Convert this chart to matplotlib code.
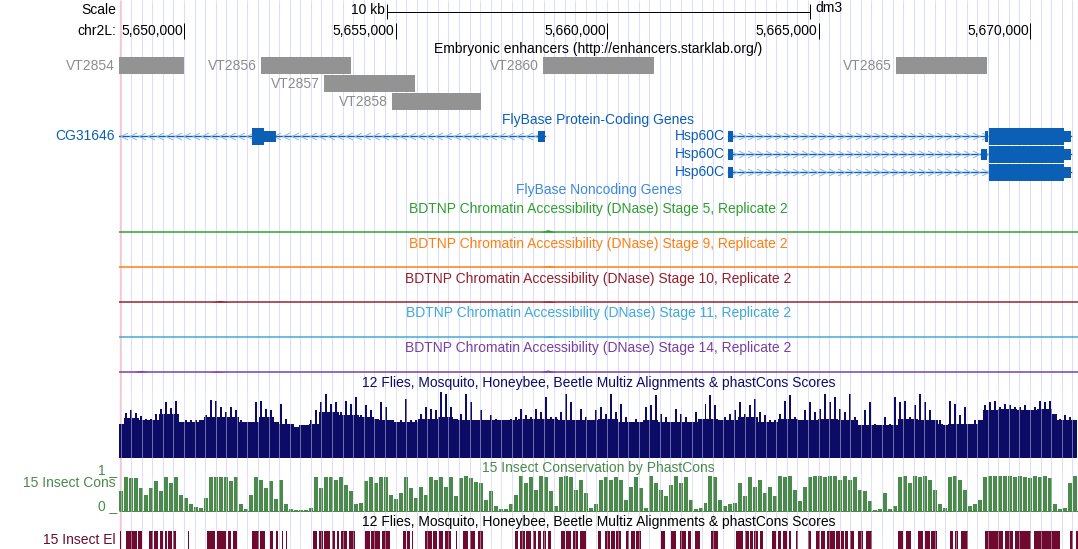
import numpy as np
import matplotlib
matplotlib.use("Agg")
import matplotlib.pyplot as plt
from matplotlib.path import Path

plt.rcParams['font.family'] = ['Liberation Sans', 'DejaVu Sans']
plt.rcParams['font.size'] = 10

W, H = 1078, 549
LEFT = 119   # first pixel column of the data area
PX = 0.72    # one pixel in points

# ---- data -------------------------------------------------------------
chrom = "chr2L"
assembly = "dm3"
view_start = 5648463
view_end = 5671134
coord_ticks = [5650000, 5655000, 5660000, 5665000, 5670000]
scale_bar_bp = 10000

enh_names = ["VT2854", "VT2856", "VT2857", "VT2858", "VT2860", "VT2865"]
enh_starts = [5648300, 5651820, 5653309, 5654917, 5658486, 5666831]
enh_ends = [5649990, 5653947, 5655460, 5657021, 5661110, 5668983]

gene_names = ["CG31646", "Hsp60C", "Hsp60C", "Hsp60C"]
gene_strands = ["-", "+", "+", "+"]
gene_tx = [(5647900, 5658533), (5662869, 5670968), (5662869, 5670968), (5662869, 5670968)]
gene_cds = [(5647950, 5651891), (5669030, 5670803), (5669030, 5670803), (5669030, 5670803)]
gene_exons = [
    [(5651607, 5652174), (5658368, 5658533)],
    [(5662869, 5662976), (5668935, 5669006), (5669030, 5670968)],
    [(5662869, 5662976), (5668841, 5668983), (5669030, 5670968)],
    [(5662869, 5662976), (5669030, 5670968)],
]

dnase_stages = ["5", "9", "10", "11", "14"]
dnase_colors = ["#2ca02c", "#ff7f0e", "#961e28", "#3fa9d8", "#7540a0"]
dnase_peaks = [
    [(5658600, 0.12)],
    [(5658620, 0.08)],
    [(5650850, 0.08), (5658620, 0.06)],
    [(5658650, 0.06)],
    [(5648983, 0.08), (5650780, 0.05), (5658600, 0.10)],
]

bin_start = 5648463
bin_bp = 118
multiz_max = 66
# highest value in each bin
multiz = [34, 45, 48, 45, 42, 39, 39, 44, 49, 56, 50, 57, 36, 38, 38, 38, 38, 43, 58, 57,
          51, 46, 51, 48, 38, 36, 36, 56, 57, 49, 48, 36, 54, 39, 34, 31, 33, 33, 38, 48,
          56, 64, 54, 56, 46, 57, 54, 61, 43, 53, 48, 39, 56, 51, 38, 36, 38, 59, 38, 38,
          44, 51,
          49, 48, 66, 64, 51, 39, 44, 64, 56, 38, 48, 38, 43, 39, 38, 38, 39, 41, 49, 43,
          41, 49, 46, 61, 41, 41, 46, 64, 56, 38, 49, 41, 38, 48, 51, 44, 64, 46, 54, 41,
          36, 39, 36, 51, 53, 63, 44, 41, 36, 49, 44, 41, 36, 46, 39, 54, 63, 53, 38, 41,
          44, 48, 56, 44, 53, 59,
          46, 43, 38, 38, 44, 57, 63, 41, 38, 48, 56, 46, 49, 64, 56, 61, 49, 46, 64, 41,
          33, 48, 56, 34, 33, 41, 34, 61, 56, 57, 41, 53, 64, 56, 48, 38, 38, 33, 57, 54,
          43, 51, 34, 38, 38, 53, 56, 57, 51, 54, 53, 51, 51, 53, 48, 51, 57, 56, 57, 44,
          39, 43, 41, 38]
# typical level of the dense body, one value per four bins
multiz_floor = [40, 38, 44, 36, 41, 41, 36, 41, 34, 34, 46, 43, 41, 38, 36, 39,
                41, 38, 38, 38, 39, 39, 38, 38, 39, 36, 38, 36, 36, 39, 38, 41,
                36, 39, 38, 39, 38, 33, 33, 39, 38, 34, 34, 48, 49, 48, 49, 38]

phastcons = [57, 96, 94, 94, 66, 47, 66, 85, 57, 96, 80, 96, 47, 38, 19, 11, 9, 38, 96, 96,
             96, 96, 85, 96, 19, 5, 47, 96, 90, 66, 85, 33, 90, 19, 5, 4, 4, 4, 9, 96,
             66, 96, 96, 90, 96, 75, 57, 19, 24, 85, 96, 80, 96, 96, 47, 33, 52, 96, 66, 38,
             70, 47,
             97, 88, 97, 69, 97, 42, 93, 99, 93, 83, 79, 32, 56, 14, 6, 6, 19, 46, 99, 79,
             97, 60, 99, 97, 56, 14, 97, 99, 97, 60, 88, 51, 9, 19, 88, 97, 88, 97, 88, 32,
             69, 97, 65, 9, 99, 79, 60, 42, 74, 99, 79, 97, 32, 6, 9, 23, 99, 97, 32, 14,
             19, 23, 79, 42, 97, 69,
             88, 51, 69, 42, 99, 97, 99, 60, 28, 69, 97, 99, 99, 97, 99, 99, 88, 99, 88, 97,
             60, 56, 28, 2, 5, 51, 5, 14, 97, 99, 79, 99, 97, 99, 88, 60, 19, 9, 97, 99,
             88, 60, 14, 19, 32, 97, 99, 99, 99, 99, 99, 97, 99, 97, 93, 99, 97, 99, 93, 19,
             5, 9, 79, 99]

el_starts = [5648487, 5648628, 5648919, 5649179, 5649297, 5649432, 5649550, 5649628, 5649732, 5650101,
             5650550, 5650773, 5651047, 5651151, 5651600, 5651796, 5652033, 5652174, 5652309, 5652411,
             5653056, 5653198, 5653309, 5653491, 5653624, 5653704, 5653907, 5654285, 5654413, 5654673,
             5655170, 5655264, 5655382, 5655697, 5655886, 5656021, 5656163, 5656435, 5656595, 5656754,
             5656950, 5657831, 5657936, 5658092, 5658250, 5658368, 5658486, 5658605, 5658919, 5659037,
             5659196, 5659353, 5659786, 5659945, 5660099, 5660219, 5660456, 5660574, 5660692, 5661283,
             5661520, 5661718, 5661914, 5662072, 5662464, 5663056, 5663255, 5663380, 5663486, 5663610,
             5663900, 5664042, 5664160, 5664293, 5664472, 5664749, 5664946, 5665065, 5665207, 5665418,
             5665538, 5665617, 5665736, 5665933, 5666129, 5666879, 5667074, 5667351, 5667509, 5667665,
             5668100, 5668217, 5668374, 5668943, 5669401, 5669638, 5670086, 5670937, 5671093]
el_ends = [5648522, 5648881, 5649000, 5649274, 5649392, 5649510, 5649591, 5649706, 5649810, 5650123,
           5650732, 5650993, 5651104, 5651245, 5651780, 5651914, 5652111, 5652229, 5652347, 5652442,
           5653137, 5653278, 5653451, 5653569, 5653671, 5653860, 5654042, 5654397, 5654633, 5654869,
           5655248, 5655342, 5655421, 5655862, 5655988, 5656122, 5656304, 5656458, 5656713, 5656872,
           5657068, 5657895, 5658054, 5658210, 5658328, 5658446, 5658564, 5658683, 5659000, 5659155,
           5659314, 5659509, 5659865, 5660063, 5660179, 5660337, 5660513, 5660654, 5660810, 5661363,
           5661638, 5661874, 5661992, 5662188, 5662623, 5663214, 5663349, 5663451, 5663570, 5663687,
           5664002, 5664120, 5664262, 5664339, 5664513, 5664827, 5665027, 5665160, 5665394, 5665498,
           5665601, 5665696, 5665838, 5666051, 5666264, 5666997, 5667177, 5667469, 5667627, 5667807,
           5668178, 5668297, 5668533, 5669361, 5669597, 5670030, 5670701, 5671015, 5671133]

# ---- colours ----------------------------------------------------------
grid_col = "#dcdcff"
gray_box = "#939393"
gray_txt = "#8c8c8c"
gene_col = "#0b5fb4"
chev_col = "#8cb6e8"
nc_col = "#3a8ad8"
navy = "#0c0c66"
cons_green = "#4a8a4a"
maroon = "#6e0a2e"

fig = plt.figure(figsize=(W / 100, H / 100), dpi=100)
ax = fig.add_axes([LEFT / W, 0, (W - LEFT) / W, 1])
ax.set_xlim(view_start, view_end)
ax.set_ylim(H, 0)
ax.axis('off')
bpp = (view_end - view_start) / (W - LEFT)
mid = (view_start + view_end) / 2
margin_x = view_start - 3 * bpp


def margin_text(y, s, color='black'):
    ax.text(margin_x, y, s, ha='right', va='center', color=color, clip_on=False)


def title(y, s, color):
    ax.text(mid, y, s, ha='center', va='center', color=color)


# guide lines and the pink left border
grid = np.arange(np.ceil(view_start / 250) * 250, view_end, 250)
ax.vlines(grid, 0, H, color=grid_col, lw=PX, zorder=0)
ax.vlines(view_start + 0.6 * bpp, 0, H, color="#ffc4c4", lw=1.4 * PX, zorder=1, clip_on=False)

# scale bar and coordinates
margin_text(10, "Scale")
s0 = mid - scale_bar_bp / 2
s1 = mid + scale_bar_bp / 2
ax.plot([s0, s1], [11.5, 11.5], color='black', lw=PX)
ax.vlines([s0, s1], 4, 19, color='black', lw=PX)
ax.text(s0 - 2 * bpp, 10, "%d kb" % (scale_bar_bp // 1000), ha='right', va='center')
ax.text(s1 + 5 * bpp, 8, assembly, ha='left', va='center')

margin_text(31, chrom + ":")
for t in coord_ticks:
    ax.vlines(t, 23, 39, color='black', lw=PX)
    ax.text(t - 1 * bpp, 31, f"{t:,}", ha='right', va='center')


def pack(starts, ends, names):
    rows, row_end = [], []
    for s, e, n in zip(starts, ends, names):
        left = max(s, view_start) - (len(n) * 8 + 6) * bpp
        r = 0
        while r < len(row_end) and row_end[r] > left:
            r += 1
        if r == len(row_end):
            row_end.append(e)
        else:
            row_end[r] = e
        rows.append(r)
    return rows


# enhancers
title(49, "Embryonic enhancers (http://enhancers.starklab.org/)", 'black')
for name, s, e, r in zip(enh_names, enh_starts, enh_ends, pack(enh_starts, enh_ends, enh_names)):
    yc = 65.5 + 18 * r
    ax.broken_barh([(s, e - s)], (yc - 8.5, 17), facecolor=gray_box, edgecolor='none', zorder=3)
    ax.text(max(s, view_start) - 4 * bpp, yc, name, ha='right', va='center',
            color=gray_txt, clip_on=False)

# genes
title(120, "FlyBase Protein-Coding Genes", gene_col)
chev_left = Path([(1, 1), (-1, 0), (1, -1)], [Path.MOVETO, Path.LINETO, Path.LINETO])
chev_right = Path([(-1, 1), (1, 0), (-1, -1)], [Path.MOVETO, Path.LINETO, Path.LINETO])
tx_s = [t[0] for t in gene_tx]
tx_e = [t[1] for t in gene_tx]
for i, r in enumerate(pack(tx_s, tx_e, gene_names)):
    yc = 136 + 18 * r
    t0, t1 = gene_tx[i]
    c0, c1 = gene_cds[i]
    ax.plot([t0, t1], [yc, yc], color=gene_col, lw=1.4 * PX, zorder=3)
    marks = np.arange(max(t0, view_start) + 5 * bpp, t1 - 3 * bpp, 9 * bpp)
    ax.plot(marks, [yc] * len(marks), ls='none',
            marker=chev_left if gene_strands[i] == "-" else chev_right,
            ms=5, mfc='none', mec=chev_col, mew=PX, zorder=4)
    for s, e in gene_exons[i]:
        ax.broken_barh([(s, e - s)], (yc - 5.5, 11), facecolor=gene_col, edgecolor='none', zorder=5)
        cs, ce = max(s, c0), min(e, c1)
        if ce > cs:
            ax.broken_barh([(cs, ce - cs)], (yc - 8.5, 17), facecolor=gene_col,
                           edgecolor='none', zorder=5)
    ax.text(max(t0, view_start) - 4 * bpp, yc, gene_names[i], ha='right', va='center',
            color=gene_col, clip_on=False)

title(190, "FlyBase Noncoding Genes", nc_col)

# DNase accessibility tracks
for k, (stage, col, peaks) in enumerate(zip(dnase_stages, dnase_colors, dnase_peaks)):
    ty = 209 + 34.8 * k
    base = 232 + 35 * k
    title(ty, "BDTNP Chromatin Accessibility (DNase) Stage %s, Replicate 2" % stage, col)
    ax.hlines(base, view_start, view_end, color=col, lw=1.5 * PX, zorder=3)
    for p, v in peaks:
        ax.fill_between([p - 8 * bpp, p, p + 8 * bpp], base, [base, base - 20 * v, base],
                        color=col, lw=0, zorder=3)

centers = bin_start + (np.arange(len(multiz)) + 0.5) * bin_bp

# multiz conservation: dense body plus the highest spike of each bin
title(383, "12 Flies, Mosquito, Honeybee, Beetle Multiz Alignments & phastCons Scores", navy)
peak = np.array(multiz)
floor = np.repeat(multiz_floor, 4)[:len(peak)]
body = np.minimum(floor, peak)
ax.bar(centers, -body / multiz_max * 66, width=bin_bp, bottom=458,
       color=navy, lw=0, zorder=3)
ax.bar(centers, -peak / multiz_max * 66, width=bin_bp * 0.4, bottom=458,
       color=navy, lw=0, zorder=3)

# phastCons 15 insects
title(468, "15 Insect Conservation by PhastCons", cons_green)
margin_text(483, "15 Insect Cons", cons_green)
ax.text(view_start - 2 * bpp, 474, "1 _", ha='right', va='baseline', color=cons_green, clip_on=False)
ax.text(view_start - 2 * bpp, 510, "0 _", ha='right', va='baseline', color=cons_green, clip_on=False)
ax.bar(centers, -np.array(phastcons) / 100 * 35, width=bin_bp * 0.8, bottom=511,
       color=cons_green, lw=0, zorder=3)
ax.hlines(511, view_start, view_end, color=cons_green, lw=PX, zorder=3)

# conserved elements
title(522, "12 Flies, Mosquito, Honeybee, Beetle Multiz Alignments & phastCons Scores", 'black')
margin_text(540, "15 Insect El", maroon)
ax.broken_barh([(s, e - s) for s, e in zip(el_starts, el_ends)], (531, 18),
               facecolor=maroon, edgecolor='none', zorder=3)

# guide lines show through the wiggle tracks
for y0, y1 in [(390, 458), (474, 512), (531, 549)]:
    ax.vlines(grid, y0, y1, color="#e6e6ff", alpha=0.45, lw=PX, zorder=6)

fig.savefig("out.png", dpi=100)
